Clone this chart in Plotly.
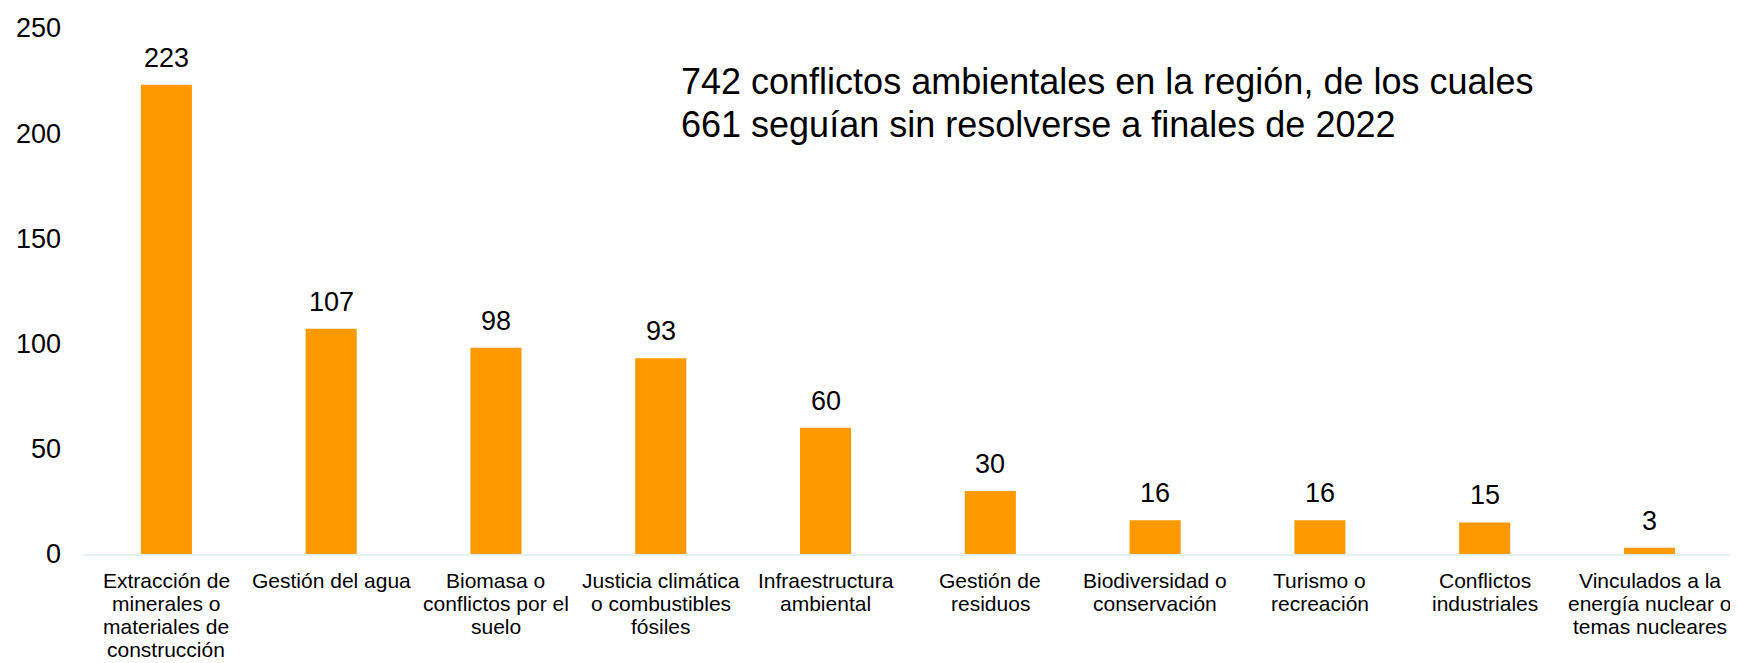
import plotly.graph_objects as go

# categories (x keys) and the wrapped labels shown under each bar
categories = [
    "Extracción de minerales o materiales de construcción",
    "Gestión del agua",
    "Biomasa o conflictos por el suelo",
    "Justicia climática o combustibles fósiles",
    "Infraestructura ambiental",
    "Gestión de residuos",
    "Biodiversidad o conservación",
    "Turismo o recreación",
    "Conflictos industriales",
    "Vinculados a la energía nuclear o temas nucleares",
]
tick_labels = [
    ["Extracción de", "minerales o", "materiales de", "construcción"],
    ["Gestión del agua"],
    ["Biomasa o", "conflictos por el", "suelo"],
    ["Justicia climática", "o combustibles", "fósiles"],
    ["Infraestructura", "ambiental"],
    ["Gestión de", "residuos"],
    ["Biodiversidad o", "conservación"],
    ["Turismo o", "recreación"],
    ["Conflictos", "industriales"],
    ["Vinculados a la", "energía nuclear o", "temas nucleares"],
]
conflicts = [223, 107, 98, 93, 60, 30, 16, 16, 15, 3]
y_ticks = [0, 50, 100, 150, 200, 250]
note_lines = [
    "742 conflictos ambientales en la región, de los cuales",
    "661 seguían sin resolverse a finales de 2022",
]

FONT = "Liberation Sans, Arial, sans-serif"

fig = go.Figure()
fig.add_trace(go.Bar(
    x=categories,
    y=conflicts,
    marker=dict(color="#FF9900", line=dict(width=0)),
    hoverinfo="x+y",
))

annotations = []
# value labels above bars
for cat, v in zip(categories, conflicts):
    annotations.append(dict(
        x=cat, y=v, xref="x", yref="y", text=str(v), showarrow=False,
        yanchor="middle", yshift=27, font=dict(size=27, color="black", family=FONT),
    ))
# category labels, one annotation per line to keep tight line spacing
for cat, lines in zip(categories, tick_labels):
    for j, line in enumerate(lines):
        annotations.append(dict(
            x=cat, y=0, xref="x", yref="y", text=line, showarrow=False,
            yanchor="middle", yshift=-(26 + 23.3 * j),
            font=dict(size=21, color="black", family=FONT),
        ))
# headline note
for j, line in enumerate(note_lines):
    annotations.append(dict(
        x=0.3606, y=[0.8974, 0.8164][j], xref="paper", yref="paper",
        text=line, showarrow=False, xanchor="left", yanchor="middle",
        font=dict(size=36, color="black", family=FONT),
    ))

# the page body has an 8px margin, so the figure is sized to fit the window
fig.update_layout(
    width=1730,
    height=655,
    margin=dict(l=76, r=5, t=15, b=109),
    paper_bgcolor="white",
    plot_bgcolor="white",
    bargap=0.69,
    showlegend=False,
    font=dict(family=FONT, color="black"),
    annotations=annotations,
    xaxis=dict(
        showticklabels=False, showgrid=False, zeroline=False,
        showline=True, linecolor="#e4f2f2", linewidth=1.5, ticks="",
    ),
    yaxis=dict(
        range=[0, 250], tickvals=y_ticks, showgrid=False, zeroline=False,
        showline=False, ticks="", ticklabelstandoff=22,
        tickfont=dict(size=27, color="black", family=FONT),
    ),
)

fig.write_html("out.html")
